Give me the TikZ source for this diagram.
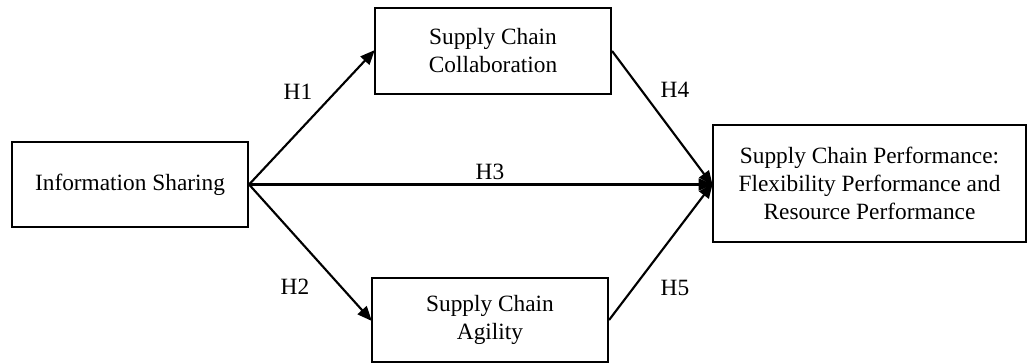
\documentclass[tikz,border=0pt]{standalone}
\usepackage{fontspec}
\setmainfont{Liberation Serif}
\usetikzlibrary{arrows.meta}
\begin{document}
\begin{tikzpicture}[x=0.75pt,y=-0.75pt,
  box/.style={draw=black,line width=1.6pt,rectangle,align=center,inner sep=0pt,
    font=\fontsize{17.5}{21}\selectfont},
  lbl/.style={font=\fontsize{17.5}{21}\selectfont,inner sep=0pt},
  conn/.style={line width=1.6pt,shorten >=-1pt,-{Triangle[length=11pt,width=9pt]}}]
\useasboundingbox (0,0) rectangle (1029,364);
\node[box,minimum width=236*0.75pt,minimum height=85*0.75pt] (info) at (130,184.5) {Information Sharing};
\node[box,minimum width=236*0.75pt,minimum height=86*0.75pt] (collab) at (493,51) {Supply Chain\\Collaboration};
\node[box,minimum width=236*0.75pt,minimum height=84*0.75pt] (agil) at (490,320) {Supply Chain\\Agility};
\node[box,minimum width=313*0.75pt,minimum height=117*0.75pt] (perf) at (869.5,183.5) {Supply Chain Performance:\\Flexibility Performance and\\Resource Performance};
\coordinate (tgt) at (info.east -| perf.west);
\draw[conn] (info.east) -- (collab.west);
\draw[conn] (info.east) -- (agil.west);
\draw[conn] (info.east) -- (tgt);
\draw[conn] (collab.east) -- (tgt);
\draw[conn] (agil.east) -- (tgt);
\node[lbl] (h1) at (298,92) {H1};
\node[lbl] (h2) at (295,287) {H2};
\node[lbl] (h3) at (490,172) {H3};
\node[lbl] (h4) at (675,90) {H4};
\node[lbl] (h5) at (675,288) {H5};
\end{tikzpicture}
\end{document}
